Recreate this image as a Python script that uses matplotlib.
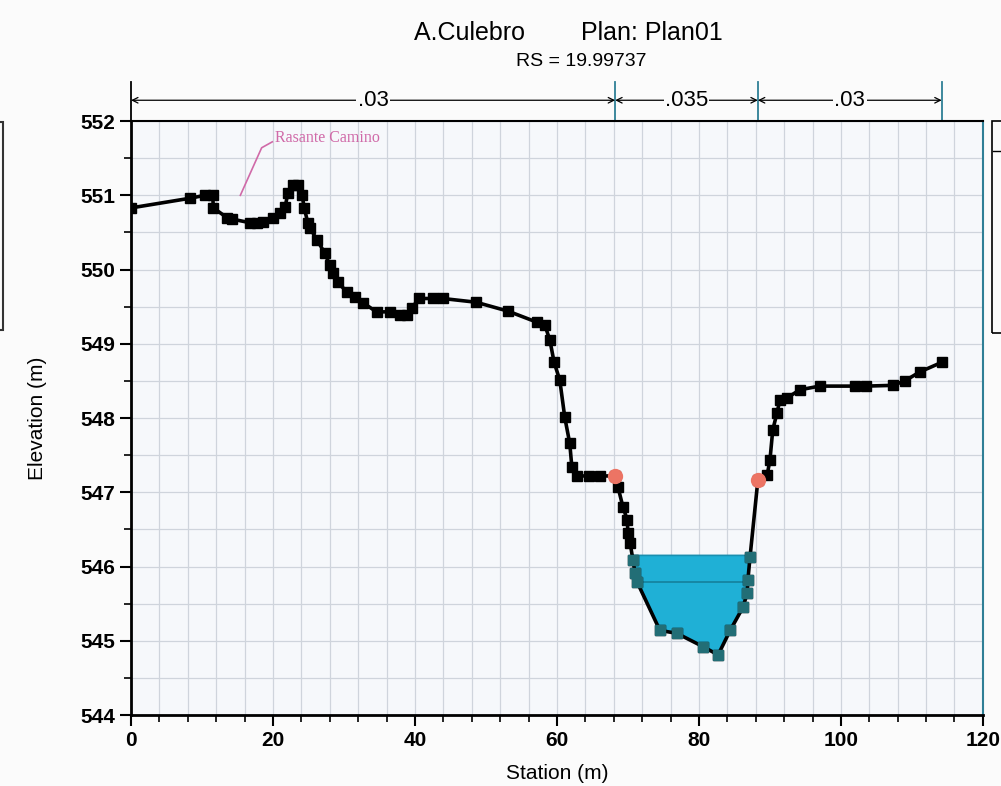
import numpy as np
import matplotlib
matplotlib.use('Agg')
import matplotlib.pyplot as plt
from matplotlib.patches import Rectangle
from matplotlib.ticker import MultipleLocator

plt.rcParams['font.family'] = ['Liberation Sans', 'DejaVu Sans']

# ground profile (station m, elevation m)
station = [0.0, 8.3, 10.4, 11.5, 11.6, 13.5, 14.2, 16.8, 17.7, 18.6, 20.0, 21.0, 21.7,
           22.1, 22.8, 23.5, 24.1, 24.4, 24.9, 25.2, 26.2, 27.3, 28.0, 28.5, 29.1,
           30.4, 31.5, 32.7, 34.6, 36.5, 37.9, 38.9, 39.6, 40.5, 42.5, 43.9, 48.6,
           53.1, 57.2, 58.3, 59.0, 59.6, 60.4, 61.1, 61.8, 62.1, 62.8, 64.5, 66.1,
           68.2, 68.6, 69.3, 69.9, 70.0, 70.3, 70.7, 71.0, 71.3, 74.5, 76.9, 80.6,
           82.7, 84.4, 86.2, 86.8, 86.9, 87.2, 88.3, 89.6, 90.0, 90.4, 91.0, 91.4,
           92.4, 94.2, 97.0, 102.0, 103.5, 107.3, 109.0, 111.1, 114.2]
elevation = [550.83, 550.96, 551.00, 551.00, 550.83, 550.70, 550.68, 550.63, 550.63,
             550.64, 550.69, 550.76, 550.84, 551.03, 551.14, 551.14, 551.00, 550.83,
             550.63, 550.56, 550.40, 550.22, 550.06, 549.95, 549.83, 549.70, 549.63,
             549.55, 549.43, 549.43, 549.39, 549.39, 549.48, 549.61, 549.61, 549.61,
             549.56, 549.44, 549.29, 549.25, 549.05, 548.75, 548.51, 548.01, 547.66,
             547.34, 547.22, 547.22, 547.22, 547.22, 547.07, 546.80, 546.63, 546.45,
             546.32, 546.09, 545.91, 545.79, 545.14, 545.10, 544.92, 544.81, 545.14,
             545.45, 545.64, 545.82, 546.13, 547.16, 547.23, 547.43, 547.84, 548.07,
             548.24, 548.27, 548.38, 548.43, 548.43, 548.43, 548.44, 548.50, 548.62,
             548.75]

bank_sta = [68.2, 88.3]
bank_elev = [547.22, 547.16]
ws_elev = 546.15
crit_elev = 545.79
n_breaks = [0.0, 68.2, 88.3, 114.2]
n_values = ['.03', '.035', '.03']
road_label = 'Rasante Camino'

sta = np.array(station)
elv = np.array(elevation)

fig = plt.figure(figsize=(10.01, 7.86), dpi=100, facecolor='#fbfbfb')
ax = fig.add_axes([0.1309, 0.0903, 0.851, 0.7557], facecolor='#f6f8fb')

# water in channel between the banks
inch = (sta >= bank_sta[0]) & (sta <= bank_sta[1])
cs, ce = sta[inch], elv[inch]
wet = ce <= ws_elev
idx = np.where(wet)[0]
i0, i1 = idx[0], idx[-1]
xl = np.interp(ws_elev, [ce[i0], ce[i0 - 1]], [cs[i0], cs[i0 - 1]])
xr = np.interp(ws_elev, [ce[i1], ce[i1 + 1]], [cs[i1], cs[i1 + 1]])
px = np.concatenate([[xl], cs[wet], [xr]])
py = np.concatenate([[ws_elev], ce[wet], [ws_elev]])
ax.fill(px, py, color='#1fb0d6', edgecolor='#1a8fb0', lw=1.2, zorder=3)
ax.plot([np.interp(crit_elev, [ce[i0 + 2], ce[i0 - 1]], [cs[i0 + 2], cs[i0 - 1]]), xr],
        [crit_elev, crit_elev], color='#15809c', lw=1.2, zorder=3)

ax.plot(sta, elv, color='black', lw=2.6, marker='s', ms=7, zorder=4)
ax.plot(cs[wet], ce[wet], ls='none', marker='s', ms=7, color='#226e76', zorder=5)
ax.plot(bank_sta, bank_elev, ls='none', marker='o', ms=10, color='#ec7464', zorder=6)

ax.set_xlim(0, 120)
ax.set_ylim(544, 552)
ax.xaxis.set_major_locator(MultipleLocator(20))
ax.xaxis.set_minor_locator(MultipleLocator(4))
ax.yaxis.set_major_locator(MultipleLocator(1))
ax.yaxis.set_minor_locator(MultipleLocator(0.5))
ax.grid(True, which='both', color='#cfd4dc', lw=0.9)
ax.set_axisbelow(True)
ax.tick_params(which='major', length=8, width=1.5, labelsize=15, direction='out')
ax.tick_params(which='minor', length=5, width=1.2, direction='out')
for lab in ax.get_xticklabels() + ax.get_yticklabels():
    lab.set_fontweight('bold')
for s in ['left', 'bottom']:
    ax.spines[s].set_linewidth(2)
ax.spines['top'].set_linewidth(1.5)
ax.spines['right'].set_color('#2f7f96')
ax.spines['right'].set_linewidth(1.5)

ax.set_xlabel('Station (m)', fontsize=15, labelpad=10)
ax.set_ylabel('Elevation (m)', fontsize=15, labelpad=24)

# road grade label
ax.plot([15.4, 18.4, 19.9], [551.0, 551.64, 551.72], color='#d06aa8', lw=1.2, zorder=2)
ax.text(20.3, 551.77, road_label, color='#d06aa8', fontsize=11.5,
        family='Liberation Serif', va='center', ha='left')

# Manning's n strip above the plot
yn = 552.28
for b in n_breaks:
    ax.plot([b, b], [552, 552.53], color='black' if b == 0 else '#2f7f96',
            lw=1.3, clip_on=False)
for k, lab in enumerate(n_values):
    a, b = n_breaks[k], n_breaks[k + 1]
    ax.annotate('', xy=(b, yn), xytext=(a, yn), xycoords='data',
                arrowprops=dict(arrowstyle='<->', color='black', lw=0.9,
                                shrinkA=0, shrinkB=0), annotation_clip=False)
    ax.text((a + b) / 2, yn, lab, ha='center', va='center', fontsize=16,
            bbox=dict(facecolor='#fbfbfb', edgecolor='none', pad=1), clip_on=False)

fig.text(0.568, 0.958, 'A.Culebro        Plan: Plan01', ha='center', va='center', fontsize=18)
fig.text(0.581, 0.922, 'RS = 19.99737', ha='center', va='center', fontsize=14)

# legend boxes cut off at the page edges
fig.patches.append(Rectangle((0.991, 0.576), 0.02, 0.27, transform=fig.transFigure,
                             fill=False, edgecolor='black', lw=1.2))
fig.lines.append(plt.Line2D([0.992, 1.0], [0.808, 0.808], transform=fig.transFigure,
                            color='black', lw=1))
fig.patches.append(Rectangle((-0.01, 0.58), 0.013, 0.265, transform=fig.transFigure,
                             fill=False, edgecolor='#333333', lw=1.5))

fig.savefig('out.png', dpi=100, facecolor=fig.get_facecolor())
